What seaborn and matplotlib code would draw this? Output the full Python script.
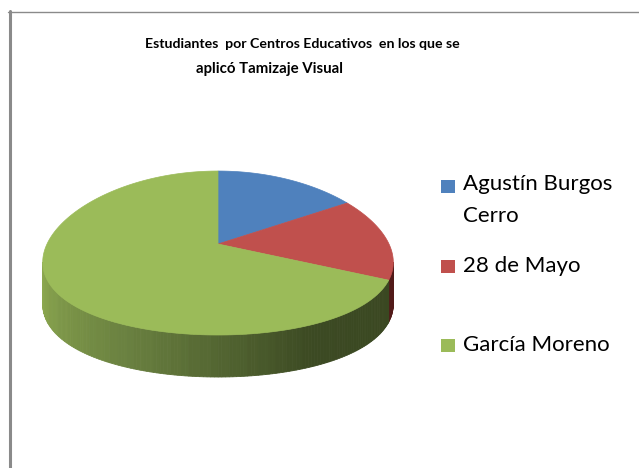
import numpy as np
import matplotlib
matplotlib.use("Agg")
import matplotlib.pyplot as plt
import seaborn as sns
from matplotlib.patches import Polygon, Rectangle
from matplotlib.lines import Line2D

# Datos
centros = ["Agustín Burgos\nCerro", "28 de Mayo", "García Moreno"]
estudiantes = [16, 16, 68]
colores_top = ["#4f81bd", "#c0504d", "#9bbb59"]
titulo_1 = "Estudiantes  por Centros Educativos  en los que se"
titulo_2 = "aplicó Tamizaje Visual"

sns.set_theme(style="white")
plt.rcParams["font.family"] = ["Lato", "DejaVu Sans"]

fig = plt.figure(figsize=(6.39, 4.68), dpi=100)
ax = fig.add_axes([0, 0, 1, 1])
ax.set_xlim(0, 639)
ax.set_ylim(468, 0)
ax.axis("off")

# geometria del pastel 3D (pixeles)
cx, cy = 218, 244
B, A = 171, 81
k, kx = 0.11, 0.22
depth = 42


def proj(t):
    s, c = np.sin(t), np.cos(t)
    x = cx + B * c / (1 + kx * s)
    y = cy - A * s / (1 + k * s)
    return x, y


frac = np.array(estudiantes, dtype=float) / sum(estudiantes)
bordes = np.pi / 2 - 2 * np.pi * np.concatenate([[0], np.cumsum(frac)])

# paredes laterales visibles (frente)
t_izq = np.pi + np.arcsin(kx)
t_der = 2 * np.pi - np.arcsin(kx)
grad_verde = sns.blend_palette(["#8eaa50", "#6a8140", "#3c4a23", "#3a4721"], 60)
grad_rojo = sns.blend_palette(["#6a2422", "#521a19"], 10)
grads = [grad_rojo, grad_rojo, grad_verde]

for i in range(len(estudiantes)):
    t0, t1 = bordes[i + 1], bordes[i]
    for off in (0, 2 * np.pi, -2 * np.pi):
        a0, a1 = max(t0 + off, t_izq), min(t1 + off, t_der)
        if a1 <= a0:
            continue
        ts = np.linspace(a0, a1, max(int((a1 - a0) * 60), 3))
        for j in range(len(ts) - 1):
            xa, ya = proj(ts[j])
            xb, yb = proj(ts[j + 1])
            pos = (ts[j] - t_izq) / (t_der - t_izq)
            g = grads[i]
            col = g[min(int(pos * len(g)), len(g) - 1)]
            ax.add_patch(Polygon([[xa, ya], [xb, yb], [xb, yb + depth], [xa, ya + depth]],
                                 closed=True, facecolor=col, edgecolor=col, lw=0.6))

# cara superior
for i in range(len(estudiantes)):
    ts = np.linspace(bordes[i], bordes[i + 1], 200)
    xs, ys = proj(ts)
    pts = np.column_stack([np.r_[cx, xs], np.r_[cy, ys]])
    ax.add_patch(Polygon(pts, closed=True, facecolor=colores_top[i],
                         edgecolor=colores_top[i], lw=0.5))

# titulo
ax.text(302, 44, titulo_1, ha="center", va="center", fontsize=10.2,
        fontweight="bold", color="black")
ax.text(270, 69, titulo_2, ha="center", va="center", fontsize=10.8,
        fontweight="bold", color="black")

# leyenda
ley_y = [186, 266, 345]
for nombre, col, y in zip(centros, colores_top, ley_y):
    ax.add_patch(Rectangle((441, y - 6), 14, 13, facecolor=col, edgecolor="none"))
    if "\n" in nombre:
        ax.text(463, y - 12, nombre, ha="left", va="top", fontsize=16,
                color="black", linespacing=1.75)
    else:
        ax.text(463, y, nombre, ha="left", va="center", fontsize=16, color="black")

# marco
fig.add_artist(Line2D([9.5 / 639, 9.5 / 639], [0, 1 - 11 / 468], color="#8a8a8a", lw=2.2))
fig.add_artist(Line2D([8 / 639, 1], [1 - 11.5 / 468, 1 - 11.5 / 468], color="#8a8a8a", lw=1))

fig.savefig("out.png", dpi=100)
